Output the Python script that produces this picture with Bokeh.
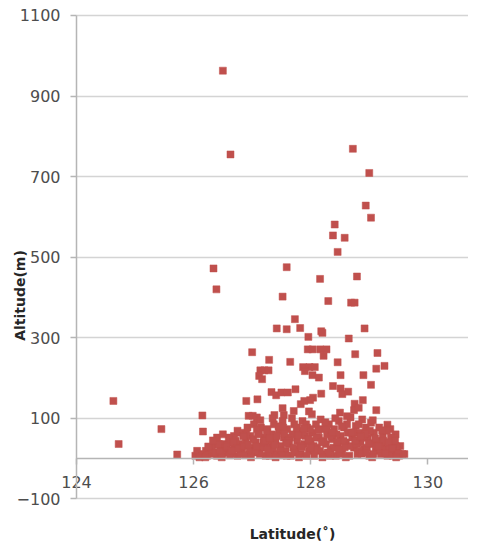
from bokeh.plotting import figure
from bokeh.models import LinearAxis, FixedTicker, Label, ColumnDataSource, Range1d, Grid
from bokeh.embed import file_html
from bokeh.resources import INLINE

# ---- data ----
# sparse / upper points
upper_lat = [126.50, 126.63, 128.72, 129.00, 128.94, 129.03, 128.41, 128.38, 128.58, 128.46,
             126.34, 127.59, 128.16, 128.79, 126.39, 127.52, 128.30, 128.69, 128.75, 127.73,
             127.42, 127.59, 127.82, 128.18, 128.20, 128.92, 127.96, 128.65, 127.00, 127.95,
             128.03, 128.16, 128.27, 128.22, 128.76, 129.14, 127.29, 127.65, 128.46, 127.87,
             127.98, 128.07, 129.26, 129.12, 127.14, 127.21, 127.28, 127.12, 127.17, 127.90,
             128.03, 128.14, 128.51, 128.90, 129.03, 128.38, 128.51, 128.18, 128.54, 128.64,
             127.33, 127.41, 127.50, 127.61, 127.74, 128.04, 127.99, 126.90, 127.09, 128.75,
             128.89, 128.74, 128.82, 129.12, 128.50, 127.83, 127.89, 127.71, 127.97, 127.52,
             127.38, 127.54, 126.15, 126.94, 127.01, 127.08, 124.63, 124.72, 125.45, 125.72,
             126.16, 130.89, 129.31, 129.36, 129.45, 129.41, 129.53, 129.60, 129.40, 129.48]
upper_alt = [963, 755, 769, 709, 628, 598, 581, 554, 548, 513,
             472, 475, 446, 452, 420, 402, 391, 387, 387, 346,
             323, 321, 324, 316, 312, 323, 302, 298, 264, 271,
             271, 271, 271, 255, 259, 262, 245, 240, 239, 227,
             227, 227, 230, 223, 219, 219, 219, 205, 197, 217,
             207, 201, 207, 207, 183, 180, 174, 161, 160, 166,
             165, 157, 164, 164, 172, 151, 145, 143, 147, 136,
             145, 120, 126, 120, 114, 135, 143, 118, 117, 125,
             108, 108, 107, 106, 106, 102, 143, 36, 73, 10,
             67, 219, 84, 73, 60, 52, 31, 11, 7, 19]

# dense cluster near the ground
dense_lat = [126.03, 126.12, 126.21, 126.26, 126.29, 126.35, 126.40, 126.40, 126.46, 126.52,
             126.58, 126.63, 126.69, 126.69, 126.75, 126.78, 126.80, 126.83, 126.89, 126.92,
             126.95, 126.97, 127.00, 127.03, 127.06, 127.09, 127.12, 127.15, 127.17, 127.20,
             127.23, 127.26, 127.29, 127.32, 127.34, 127.37, 127.40, 127.43, 127.46, 127.49,
             127.52, 127.54, 127.57, 127.60, 127.63, 127.66, 127.69, 127.72, 127.74, 127.77,
             127.80, 127.83, 127.86, 127.89, 127.91, 127.94, 127.97, 128.00, 128.03, 128.06,
             128.09, 128.11, 128.14, 128.17, 128.20, 128.23, 128.26, 128.28, 128.31, 128.34,
             128.37, 128.40, 128.43, 128.46, 128.48, 128.51, 128.54, 128.57, 128.60, 128.63,
             128.66, 128.68, 128.71, 128.74, 128.77, 128.80, 128.83, 128.85, 128.88, 128.91,
             128.94, 128.97, 129.00, 129.03, 129.05, 129.08, 129.11, 129.14, 129.17, 129.20,
             129.23, 129.25, 129.28, 129.31, 129.34, 129.37, 129.42, 129.45,
             126.06, 126.15, 126.23, 126.32, 126.38, 126.43, 126.49, 126.55, 126.60, 126.66,
             126.72, 126.75, 126.80, 126.86, 126.90, 126.96, 127.02, 127.08, 127.13, 127.19,
             127.25, 127.30, 127.36, 127.42, 127.48, 127.53, 127.59, 127.65, 127.70, 127.76,
             127.82, 127.87, 127.93, 127.99, 128.05, 128.10, 128.16, 128.22, 128.27, 128.33,
             128.39, 128.44, 128.50, 128.56, 128.62, 128.67, 128.73, 128.79, 128.84, 128.90,
             128.96, 129.01, 129.07, 129.13, 129.19, 129.24, 129.30, 129.36, 129.41, 129.51,
             129.57,
             126.25, 126.33, 126.45, 126.50, 126.57, 126.62, 126.68, 126.74, 126.85, 126.88,
             126.93, 127.05, 127.10, 127.14, 127.22, 127.27, 127.35, 127.38, 127.45, 127.50,
             127.55, 127.62, 127.68, 127.72, 127.79, 127.85, 127.92, 127.96, 128.02, 128.07,
             128.13, 128.19, 128.25, 128.29, 128.35, 128.42, 128.45, 128.53, 128.58, 128.62,
             128.70, 128.76, 128.82, 128.87, 128.93, 128.99, 129.06, 129.10, 129.16, 129.22,
             129.27, 129.33, 129.39, 129.44, 129.50, 126.10, 126.20, 126.48, 126.98, 127.40,
             127.80, 128.20, 128.60, 129.05, 129.46, 126.65, 127.08, 127.58, 128.00, 128.48,
             128.95, 127.30, 127.88, 128.38, 128.85]
dense_alt = [7, 11, 19, 27, 11, 36, 52, 7, 23, 36,
             15, 44, 56, 27, 7, 36, 64, 19, 44, 77,
             11, 56, 27, 85, 40, 15, 64, 77, 27, 52,
             7, 73, 36, 19, 60, 85, 44, 11, 69, 31,
             93, 52, 19, 73, 36, 7, 60, 85, 23, 44,
             69, 11, 93, 36, 56, 77, 19, 44, 64, 7,
             85, 27, 52, 97, 73, 11, 36, 60, 85, 23,
             48, 73, 7, 31, 93, 56, 19, 77, 40, 64,
             7, 102, 52, 27, 81, 11, 64, 40, 97, 23,
             77, 52, 7, 89, 36, 64, 19, 44, 77, 11,
             56, 27, 40, 7, 23, 52, 15, 31,
             19, 7, 7, 23, 15, 36, 11, 27, 52, 11,
             44, 69, 11, 31, 60, 23, 48, 73, 11, 40,
             64, 7, 27, 56, 19, 77, 7, 52, 27, 77,
             31, 60, 7, 73, 31, 52, 19, 44, 77, 7,
             27, 60, 11, 44, 85, 31, 64, 36, 19, 52,
             27, 69, 11, 31, 23, 44, 69, 11, 36, 7,
             11,
             30, 45, 18, 60, 30, 8, 40, 25, 55, 8,
             35, 18, 60, 95, 45, 22, 100, 35, 80, 8,
             62, 45, 100, 15, 58, 28, 85, 48, 110, 22,
             70, 40, 90, 15, 55, 100, 42, 80, 28, 105,
             65, 45, 85, 12, 62, 38, 95, 50, 30, 70,
             13, 40, 25, 45, 12, 3, 3, 3, 3, 3,
             3, 3, 3, 3, 3, 20, 30, 38, 28, 22,
             15, 50, 75, 65, 55]

latitude = upper_lat + dense_lat
altitude = upper_alt + dense_alt

x_ticks = [124, 126, 128, 130]
y_ticks = [-100, 100, 300, 500, 700, 900, 1100]
x_axis_start, x_axis_end = 124, 131
y_axis_start, y_axis_end = -100, 1100

RED = "#C0504D"
GRID = "#d4d4d4"
AXIS = "#b5b5b5"
TICK_FONT = "DejaVu Sans"
TICK_COLOR = "#4d4d4d"
TITLE_COLOR = "#262626"

# frame covers the whole canvas; axes are drawn at fixed locations inside it
p = figure(width=468, height=542, output_backend="svg", toolbar_location=None,
           x_range=Range1d(122.702, 130.695), y_range=Range1d(-208.5, 1137.2),
           x_axis_location=None, y_axis_location=None,
           min_border_left=0, min_border_top=0, min_border_right=0, min_border_bottom=0)
p.outline_line_color = None
p.background_fill_color = "white"
p.border_fill_color = "white"
for g in p.grid:
    g.visible = False

ygrid = Grid(dimension=1, ticker=FixedTicker(ticks=y_ticks),
             cross_bounds=(x_axis_start, x_axis_end),
             grid_line_color=GRID, grid_line_width=1.5)
p.add_layout(ygrid)

src = ColumnDataSource(dict(x=latitude, y=altitude))
p.scatter("x", "y", source=src, marker="square", size=7,
          fill_color=RED, line_color=RED, line_width=0.5)

# y axis at latitude 124
yax = LinearAxis(fixed_location=x_axis_start, ticker=FixedTicker(ticks=y_ticks),
                 bounds=(y_axis_start, y_axis_end))
# x axis crossing at altitude 0
xax = LinearAxis(fixed_location=0, ticker=FixedTicker(ticks=x_ticks),
                 bounds=(x_axis_start, x_axis_end))
for ax, standoff in ((yax, 10), (xax, 11)):
    ax.minor_tick_line_color = None
    ax.major_tick_out = 6
    ax.major_tick_in = 0
    ax.major_tick_line_color = AXIS
    ax.major_tick_line_width = 1.5
    ax.axis_line_color = AXIS
    ax.axis_line_width = 1.5
    ax.major_label_standoff = standoff
    ax.major_label_text_font = TICK_FONT
    ax.major_label_text_font_size = "16px"
    ax.major_label_text_color = TICK_COLOR
p.add_layout(yax, "left")
p.add_layout(xax, "below")

# axis titles
p.add_layout(Label(x=123.04, y=404.7, text="Altitude(m)", angle=90, angle_units="deg",
                   text_align="center", text_baseline="middle",
                   text_font="DejaVu Sans", text_font_style="bold",
                   text_font_size="14px", text_color=TITLE_COLOR))
p.add_layout(Label(x=127.69, y=-188.6, text="Latitude(˚)",
                   text_align="center", text_baseline="middle",
                   text_font="DejaVu Sans", text_font_style="bold",
                   text_font_size="14px", text_color=TITLE_COLOR))

open("out.html", "w").write(file_html(p, INLINE))
